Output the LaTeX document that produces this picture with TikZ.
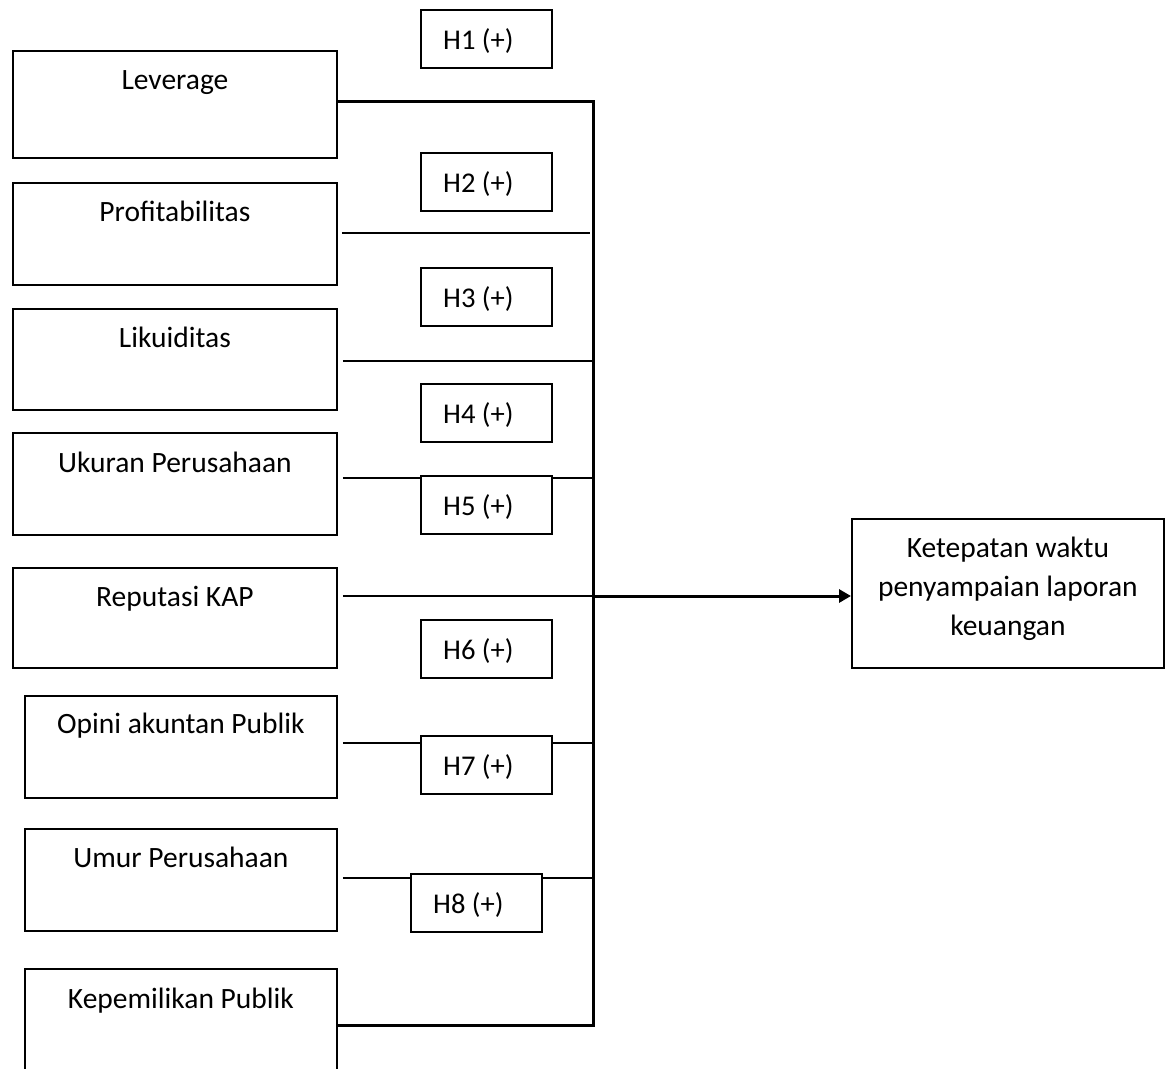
\documentclass[tikz,border=0pt]{standalone}
\usepackage{fontspec}
\setmainfont{Carlito}
\usetikzlibrary{calc,arrows.meta}
\begin{document}
\begin{tikzpicture}[x=1pt,y=-1pt,
  every node/.style={font=\fontsize{29.5}{39}\selectfont},
  varbox/.style={draw,line width=1.8pt,rectangle,inner sep=0pt,anchor=north west,minimum width=#1},
  hbox/.style={draw,line width=1.8pt,rectangle,inner sep=0pt,anchor=north west,minimum width=131pt,minimum height=58pt},
  lbl/.style={anchor=base,inner sep=0pt},
  hlbl/.style={anchor=base west,inner sep=0pt,font=\fontsize{28.6}{39}\selectfont},
  thinline/.style={line width=1.4pt},
  thickline/.style={line width=3pt},
]
\useasboundingbox (0,0) rectangle (1169,1068);
\clip (0,0) rectangle (1169,1068);

% variable boxes
\node[varbox=324pt,minimum height=107pt] (b1) at (12,50) {};
\node[varbox=324pt,minimum height=102pt] (b2) at (12,182) {};
\node[varbox=324pt,minimum height=101pt] (b3) at (12,308) {};
\node[varbox=324pt,minimum height=102pt] (b4) at (12,432) {};
\node[varbox=324pt,minimum height=100pt] (b5) at (12,567) {};
\node[varbox=312pt,minimum height=102pt] (b6) at (24,695) {};
\node[varbox=312pt,minimum height=102pt] (b7) at (24,828) {};
\node[varbox=312pt,minimum height=200pt] (b8) at (24,968) {};

\node[lbl] (t1) at ($(b1.north)+(0,39)$) {Leverage};
\node[lbl] (t2) at ($(b2.north)+(0,39)$) {Profitabilitas};
\node[lbl] (t3) at ($(b3.north)+(0,39)$) {Likuiditas};
\node[lbl] (t4) at ($(b4.north)+(0,40)$) {Ukuran Perusahaan};
\node[lbl] (t5) at ($(b5.north)+(0,39)$) {Reputasi KAP};
\node[lbl] (t6) at ($(b6.north)+(0,38)$) {Opini akuntan Publik};
\node[lbl] (t7) at ($(b7.north)+(0,39)$) {Umur Perusahaan};
\node[lbl] (t8) at ($(b8.north)+(0,40)$) {Kepemilikan Publik};

% hypothesis boxes
\node[hbox] (h1) at (420,9) {};
\node[hbox] (h2) at (420,152) {};
\node[hbox] (h3) at (420,267) {};
\node[hbox] (h4) at (420,383) {};
\node[hbox] (h5) at (420,475) {};
\node[hbox] (h6) at (420,619) {};
\node[hbox] (h7) at (420,735) {};
\node[hbox] (h8) at (410,873) {};

\node[hlbl] (ht1) at ($(h1.north west)+(23,40)$) {H1 (+)};
\node[hlbl] (ht2) at ($(h2.north west)+(23,40)$) {H2 (+)};
\node[hlbl] (ht3) at ($(h3.north west)+(23,40)$) {H3 (+)};
\node[hlbl] (ht4) at ($(h4.north west)+(23,40)$) {H4 (+)};
\node[hlbl] (ht5) at ($(h5.north west)+(23,40)$) {H5 (+)};
\node[hlbl] (ht6) at ($(h6.north west)+(23,40)$) {H6 (+)};
\node[hlbl] (ht7) at ($(h7.north west)+(23,40)$) {H7 (+)};
\node[hlbl] (ht8) at ($(h8.north west)+(23,40)$) {H8 (+)};

% outcome box
\node[varbox=312pt,minimum height=149pt] (out) at (851,518) {};
\node[lbl,align=center] (tout) at ($(out.north)+(0,117)$) {Ketepatan waktu\\penyampaian laporan\\keuangan};

% bus
\coordinate (bt) at (593,101);
\coordinate (bb) at (593,1025);
\draw[thickline] (b1.north east |- bt) -- (bt) -- (bb) -- (b8.north east |- bb);

% connectors
\coordinate (p2) at ($(b2.north east)+(4,51)$);
\draw[thinline] (p2) -- ++(248,0);
\coordinate (p3) at ($(b3.north east)+(5,53)$);
\draw[thinline] (p3) -- (bt |- p3);
\coordinate (p4) at ($(b4.north east)+(5,46)$);
\draw[thinline] (p4) -- (h5.west |- p4);
\draw[thinline] (h5.east |- p4) -- (bt |- p4);
\coordinate (p5) at ($(b5.north east)+(5,29)$);
\draw[thinline] (p5) -- (bt |- p5);
\draw[thickline,-{Triangle[length=12pt,width=13pt]}] (bt |- p5) -- (out.west |- p5);
\coordinate (p6) at ($(b6.north east)+(5,48)$);
\draw[thinline] (p6) -- (h7.west |- p6);
\draw[thinline] (h7.east |- p6) -- (bt |- p6);
\coordinate (p7) at ($(b7.north east)+(5,50)$);
\draw[thinline] (p7) -- (h8.west |- p7);
\draw[thinline] (h8.east |- p7) -- (bt |- p7);
\end{tikzpicture}
\end{document}
